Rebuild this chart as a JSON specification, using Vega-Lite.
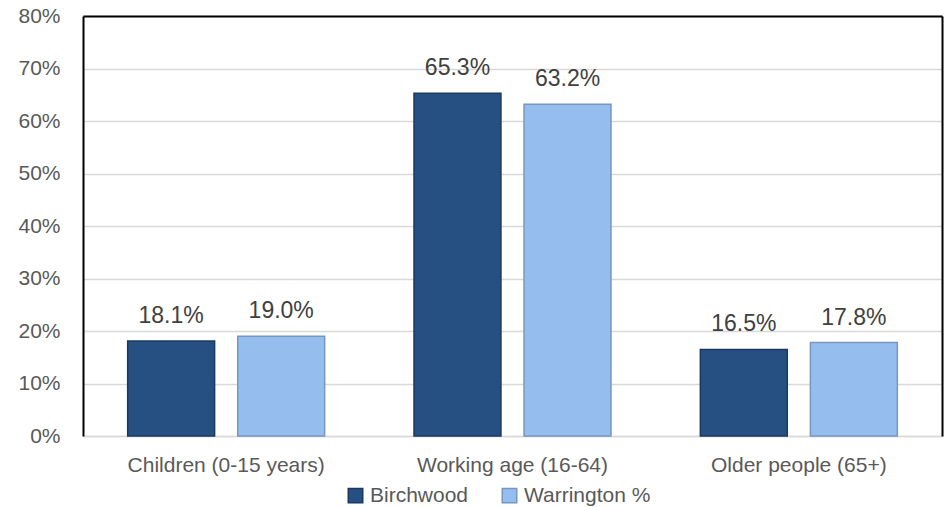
{
  "$schema": "https://vega.github.io/schema/vega-lite/v6.json",
  "width": 859,
  "height": 420,
  "autosize": {"type": "none"},
  "padding": {"left": 83, "top": 16, "right": 6, "bottom": 71},
  "background": "white",
  "config": {
    "view": {"stroke": null},
    "font": "Liberation Sans",
    "axis": {"labelFont": "Liberation Sans", "labelColor": "#595959", "labelFontSize": 21, "labelLimit": 0, "ticks": false, "title": null}
  },
  "data": {
    "values": [
      {"group": "Children (0-15 years)", "series": "Birchwood", "value": 0.181},
      {"group": "Children (0-15 years)", "series": "Warrington %", "value": 0.190},
      {"group": "Working age (16-64)", "series": "Birchwood", "value": 0.653},
      {"group": "Working age (16-64)", "series": "Warrington %", "value": 0.632},
      {"group": "Older people (65+)", "series": "Birchwood", "value": 0.165},
      {"group": "Older people (65+)", "series": "Warrington %", "value": 0.178}
    ]
  },
  "layer": [
    {
      "mark": {"type": "bar", "strokeWidth": 1.5},
      "encoding": {
        "x": {
          "field": "group", "type": "nominal", "sort": null,
          "scale": {"paddingInner": 0.312, "paddingOuter": 0.156},
          "axis": {"labelAngle": 0, "domainColor": "#d9d9d9", "domainWidth": 1.5, "labelPadding": 18}
        },
        "xOffset": {"field": "series", "type": "nominal", "scale": {"paddingInner": 0.21, "paddingOuter": 0}},
        "y": {
          "field": "value", "type": "quantitative",
          "scale": {"domain": [0, 0.8], "nice": false},
          "axis": {"values": [0, 0.1, 0.2, 0.3, 0.4, 0.5, 0.6, 0.7, 0.8], "format": ".0%", "grid": true, "gridColor": "#d9d9d9", "gridWidth": 1.5, "domainColor": "black", "domainWidth": 2, "labelPadding": 23}
        },
        "color": {
          "field": "series", "type": "nominal",
          "scale": {"domain": ["Birchwood", "Warrington %"], "range": ["#264f82", "#95bdee"]},
          "legend": {"orient": "none", "legendX": 262, "legendY": 469, "direction": "horizontal", "title": null, "symbolType": "square", "symbolSize": 210, "labelFontSize": 21, "labelColor": "#595959", "labelFont": "Liberation Sans", "labelOffset": 4, "columnPadding": 30, "symbolStrokeWidth": 1.5}
        },
        "stroke": {
          "field": "series", "type": "nominal",
          "scale": {"domain": ["Birchwood", "Warrington %"], "range": ["#1a3961", "#7597c2"]},
          "legend": {"orient": "none", "legendX": 262, "legendY": 469, "direction": "horizontal", "title": null, "symbolType": "square", "symbolSize": 210, "labelFontSize": 21, "labelColor": "#595959", "labelFont": "Liberation Sans", "labelOffset": 4, "columnPadding": 30, "symbolStrokeWidth": 1.5}
        }
      }
    },
    {
      "mark": {"type": "text", "fontSize": 23, "color": "#404040", "baseline": "alphabetic", "dy": -18, "font": "Liberation Sans"},
      "encoding": {
        "x": {
          "field": "group", "type": "nominal", "sort": null,
          "scale": {"paddingInner": 0.312, "paddingOuter": 0.156},
          "axis": {"orient": "top", "labels": false, "domainColor": "black", "domainWidth": 2}
        },
        "xOffset": {"field": "series", "type": "nominal", "scale": {"paddingInner": 0.21, "paddingOuter": 0}},
        "y": {
          "field": "value", "type": "quantitative",
          "scale": {"domain": [0, 0.8], "nice": false},
          "axis": {"orient": "right", "labels": false, "grid": false, "domainColor": "black", "domainWidth": 2}
        },
        "text": {"field": "value", "type": "quantitative", "format": ".1%"}
      }
    }
  ],
  "resolve": {"axis": {"x": "independent", "y": "independent"}}
}
